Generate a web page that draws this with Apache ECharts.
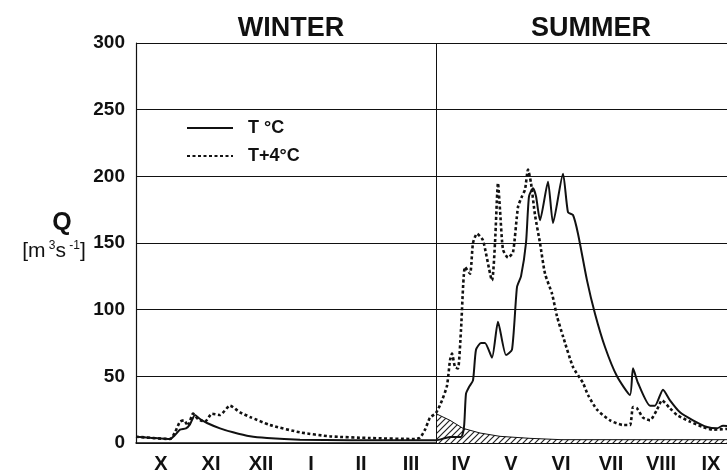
<!DOCTYPE html>
<html>
<head>
<meta charset="utf-8">
<script src="https://cdn.jsdelivr.net/npm/echarts@6/dist/echarts.min.js"></script>
<style>
  html, body { margin: 0; padding: 0; background: #fff; }
  #chart { width: 727px; height: 474px; }
</style>
</head>
<body>
<div id="chart"></div>
<script>
// hydrological year, x in months from 1 October
const months = ['X', 'XI', 'XII', 'I', 'II', 'III', 'IV', 'V', 'VI', 'VII', 'VIII', 'IX'];
const seasons = ['WINTER', 'SUMMER'];

// discharge Q [m3/s], present climate
const qPresent = [
  [0, 4.7], [0.28, 4], [0.68, 3], [0.78, 6], [0.88, 10], [1.0, 11], [1.08, 14], [1.18, 21],
  [1.28, 18], [1.42, 15], [1.68, 11], [1.94, 8], [2.28, 5], [2.62, 3.7], [3.28, 2.5],
  [4.28, 2], [5.28, 2], [6.0, 2], [6.28, 4.5], [6.5, 4.5], [6.56, 12], [6.6, 37],
  [6.66, 42], [6.74, 47], [6.8, 70], [6.9, 75], [6.98, 75], [7.12, 64], [7.24, 91],
  [7.4, 66], [7.52, 70], [7.62, 117], [7.7, 125], [7.8, 150], [7.86, 185], [7.94, 191],
  [8.0, 185], [8.08, 167], [8.24, 196], [8.34, 165], [8.54, 202], [8.64, 173], [8.74, 171],
  [8.84, 157], [9.02, 122], [9.18, 97], [9.38, 72], [9.62, 50], [9.88, 36], [9.94, 56],
  [10.04, 45], [10.28, 28], [10.38, 28], [10.54, 40], [10.68, 32], [10.88, 23], [11.14, 17],
  [11.42, 12], [11.62, 11], [11.74, 13], [12, 12]
];

// discharge Q [m3/s], T+4°C
const qWarm = [
  [0, 4.7], [0.68, 3], [0.78, 8], [0.88, 16], [0.96, 17], [1.04, 13], [1.14, 22], [1.24, 18],
  [1.38, 16], [1.52, 22], [1.68, 21], [1.88, 28], [2.08, 23], [2.28, 19.5], [2.68, 13.5],
  [3.28, 8], [3.88, 5], [4.68, 3.7], [5.58, 3], [5.68, 4], [5.78, 10], [5.88, 19], [6.0, 22.5],
  [6.12, 32], [6.22, 43], [6.28, 62], [6.32, 67], [6.38, 57], [6.44, 56], [6.5, 85],
  [6.58, 132], [6.68, 127], [6.74, 150], [6.82, 157], [6.94, 152], [7.12, 122], [7.18, 150],
  [7.24, 195], [7.28, 175], [7.34, 145], [7.44, 139], [7.54, 143], [7.64, 177], [7.72, 185],
  [7.78, 190], [7.84, 205], [7.9, 195], [7.98, 171], [8.08, 150], [8.18, 127], [8.32, 112],
  [8.42, 95], [8.54, 80], [8.74, 57], [8.94, 45], [9.04, 36], [9.22, 25], [9.48, 17],
  [9.74, 13.5], [9.88, 13.5], [9.94, 27], [10.02, 26], [10.14, 19], [10.28, 17], [10.42, 25],
  [10.52, 32], [10.68, 26], [10.82, 21], [11.08, 16], [11.34, 12], [11.54, 10], [12, 11]
];

// hatched part
const qHatch = [
  [6.0, 22], [6.28, 17], [6.54, 11], [6.88, 7.5], [7.28, 5], [7.88, 3.5], [8.5, 2.5], [12, 2.5]
];

function hatchPattern() {
  let c = document.createElement('canvas');
  c.width = 6; c.height = 6;
  let ctx = c.getContext('2d');
  ctx.fillStyle = '#fff';
  ctx.fillRect(0, 0, 6, 6);
  ctx.strokeStyle = '#222';
  ctx.lineWidth = 1.2;
  ctx.beginPath();
  ctx.moveTo(0, 6); ctx.lineTo(6, 0);
  ctx.moveTo(-1, 1); ctx.lineTo(1, -1);
  ctx.moveTo(5, 7); ctx.lineTo(7, 5);
  ctx.stroke();
  return c;
}

const ink = '#111';
const font = 'Liberation Sans';

let chart = echarts.init(document.getElementById('chart'));
chart.setOption({
  backgroundColor: '#fff',
  animation: false,
  textStyle: { fontFamily: font, color: ink },
  title: [
    { text: seasons[0], left: 286, top: 10, textAlign: 'center',
      textStyle: { fontSize: 27, fontWeight: 'bold', color: ink, fontFamily: font } },
    { text: seasons[1], left: 586, top: 10, textAlign: 'center',
      textStyle: { fontSize: 27, fontWeight: 'bold', color: ink, fontFamily: font } },
    { text: 'Q', left: 57, top: 206, textAlign: 'center',
      textStyle: { fontSize: 25, fontWeight: 'bold', color: ink, fontFamily: font } },
    { text: '{a|[m}{s| 3}{a|s}{s| -1}{a|]}', left: 49, top: 235, textAlign: 'center',
      textStyle: {
        fontWeight: 'normal',
        rich: {
          a: { fontSize: 21, fontWeight: 'normal', color: ink, fontFamily: font, verticalAlign: 'bottom', lineHeight: 22 },
          s: { fontSize: 12, fontWeight: 'normal', color: ink, fontFamily: font, verticalAlign: 'top', lineHeight: 22 }
        }
      } }
  ],
  legend: {
    orient: 'vertical',
    left: 181,
    top: 114,
    itemWidth: 46,
    itemHeight: 14,
    itemGap: 10,
    itemStyle: { opacity: 0 },
    data: ['T °C', 'T+4°C'],
    textStyle: { fontSize: 18, fontWeight: 'bold', color: ink, fontFamily: font, padding: [0, 0, 0, 10] }
  },
  grid: { left: 136, right: -9, top: 43, bottom: 31, outerBoundsMode: 'none' },
  xAxis: {
    type: 'value',
    min: 0,
    max: 12,
    interval: 0.5,
    axisLine: { lineStyle: { color: ink, width: 1.5 } },
    axisTick: { show: false },
    splitLine: { show: false },
    axisLabel: {
      margin: 11,
      fontSize: 20,
      fontWeight: 'bold',
      color: ink,
      showMaxLabel: false,
      formatter: function (v) {
        let k = Math.round(v * 2);
        return k % 2 === 1 ? months[(k - 1) / 2] : '';
      }
    }
  },
  yAxis: {
    type: 'value',
    min: 0,
    max: 300,
    interval: 50,
    axisLine: { show: true, lineStyle: { color: ink, width: 1.2 } },
    axisTick: { show: false },
    splitLine: { lineStyle: { color: ink, width: 1 } },
    axisLabel: { margin: 11, fontSize: 19, fontWeight: 'bold', color: ink }
  },
  series: [
    {
      name: 'hatch',
      type: 'line',
      data: qHatch,
      symbol: 'none',
      silent: true,
      lineStyle: { color: ink, width: 1 },
      areaStyle: { color: { image: hatchPattern(), repeat: 'repeat' }, opacity: 1 },
      markLine: {
        silent: true,
        symbol: 'none',
        label: { show: false },
        lineStyle: { color: ink, width: 1, type: 'solid' },
        data: [{ xAxis: 6 }]
      }
    },
    {
      name: 'T °C',
      type: 'line',
      data: qPresent,
      symbol: 'none',
      smooth: 0.2,
      color: ink,
      lineStyle: { color: ink, width: 2 }
    },
    {
      name: 'T+4°C',
      type: 'line',
      data: qWarm,
      symbol: 'none',
      smooth: 0.2,
      color: ink,
      lineStyle: { color: ink, width: 2.6, type: [3, 2.5] }
    }
  ]
});
</script>
</body>
</html>
